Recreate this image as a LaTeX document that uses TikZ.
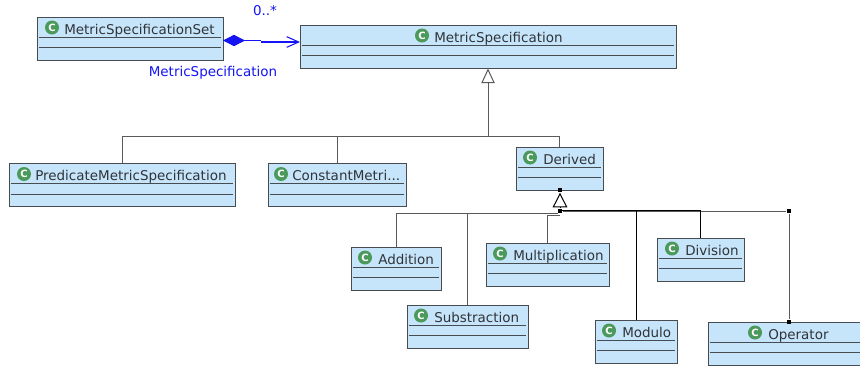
\documentclass[tikz,border=0pt]{standalone}
\usepackage{fontspec}
\setmainfont{DejaVu Sans}
\usepackage{xcolor}
\usetikzlibrary{arrows.meta}
\definecolor{classbg}{HTML}{C6E4FA}
\definecolor{classline}{HTML}{464C50}
\definecolor{relgray}{HTML}{5A5A5A}
\definecolor{assocblue}{HTML}{1414F5}
\definecolor{icongreen}{HTML}{4B9A5B}
\definecolor{nametext}{HTML}{303438}
\newcommand{\constname}{ConstantMetri...}
\tikzset{
  classbox/.style={draw=classline, fill=classbg, line width=0.65pt, inner sep=0pt, minimum height=32.25pt},
  divider/.style={draw=classline, line width=0.55pt},
  icon/.style={circle, fill=icongreen, inner sep=0pt, minimum size=10.5pt, text=white, font=\fontsize{7.5}{7.5}\selectfont\bfseries},
  lab/.style={text=nametext, font=\fontsize{10.1}{12}\selectfont, inner sep=0pt, anchor=base west},
  rel/.style={draw=relgray, line width=0.75pt},
  relk/.style={draw=black, line width=0.75pt},
  assoc/.style={draw=assocblue, line width=0.8pt},
  assoclab/.style={text=assocblue, font=\fontsize{10.1}{12}\selectfont, inner sep=0pt},
  handle/.style={rectangle, fill=black, inner sep=0pt, minimum size=3.6pt},
}

\begin{document}
\begin{tikzpicture}[x=0.75pt,y=-0.75pt]
\path[use as bounding box, clip] (0,0) rectangle (860,368);
\fill[white] (0,0) rectangle (860,368);

% classes: name / centre x / centre y / width / icon x / text x / label
\foreach \n/\x/\y/\w/\ix/\tx/\t in {
  set/130/38.5/186/52/64/MetricSpecificationSet,
  spec/488/46.5/376/422/434/MetricSpecification,
  predicate/122/185/226/24/35/PredicateMetricSpecification,
  constant/337/185/138/281/292/\constname,
  derived/559.5/168.5/87/530/543/Derived,
  addition/396/268.5/90/365/378/Addition,
  substraction/467.5/326.5/121/421/434/Substraction,
  multiplication/547.5/264.5/123/500/513/Multiplication,
  modulo/636/341.5/82/609/622/Modulo,
  division/700.5/259.5/87/672/685/Division,
  operator/788.5/343.5/161/755/768/Operator}{
  \node[classbox, minimum width=\w*0.75pt] (\n) at (\x,\y) {};
  \draw[divider] ([xshift=1.5pt,yshift=-15.4pt]\n.north west) -- ([xshift=-1.5pt,yshift=-15.4pt]\n.north east);
  \draw[divider] ([xshift=1.5pt,yshift=-23.2pt]\n.north west) -- ([xshift=-1.5pt,yshift=-23.2pt]\n.north east);
  \node[icon] (\n icon) at (\ix,\y-11) {C};
  \node[lab] (\n name) at (\tx,\y-4.2) {\t};
}

% composition
\coordinate (setport) at (223,40.5);
\coordinate (specport) at (300,42);
\coordinate (kinka) at (261,40.5);
\coordinate (kinkb) at (261,42);
\draw[assoc, {Diamond[fill=assocblue, length=16.5pt, width=8.5pt]}-] (setport) -- (kinka);
\draw[assoc, -{Straight Barb[length=9pt, width=8pt]}] (kinkb) -- (specport);
\node[assoclab] (multi) at (265,11) {0..*};
\node[assoclab] (role) at (213,73) {MetricSpecification};

% generalisation to MetricSpecification
\coordinate (busA) at (488,136);
\draw[rel, -{Triangle[open, fill=white, length=11pt, width=10pt]}] (busA) -- (spec.south -| busA);
\draw[rel] (busA) -| (predicate.north);
\draw[rel] (busA) -| (constant.north);
\draw[rel] (busA) -| (derived.north);

% generalisation to Derived
\node[handle] (hndtop) at (560,190) {};
\node[handle] (hndbot) at (560,211) {};
\node[handle] (hndop) at (789,211) {};
\node[handle] (hndopb) at (789,322) {};
\coordinate (busL) at (558,213);
\coordinate (busM) at (560,215);
\coordinate (busR) at (560,210);
\draw[rel] (hndbot) -- (hndop) -- (hndopb);
\draw[rel] (busL) -| (addition.north);
\draw[rel] (busL) -| (substraction.north);
\draw[rel] (busM) -| (multiplication.north);
\draw[relk] (busR) -| (modulo.north);
\draw[relk] (busR) -| (division.north);
\draw[relk, -{Triangle[open, fill=white, length=11pt, width=11pt]}] (hndbot) -- (hndtop);
\end{tikzpicture}
\end{document}
